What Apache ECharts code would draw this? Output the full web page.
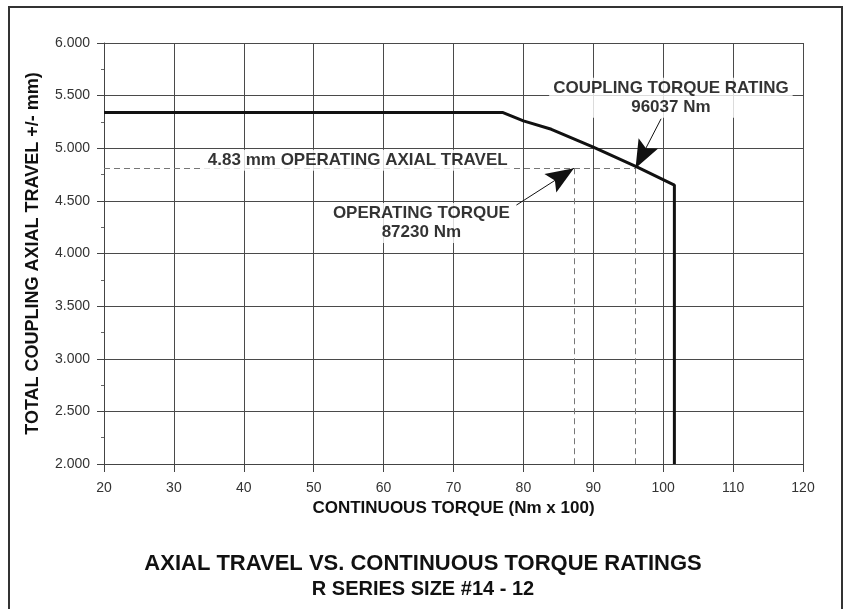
<!DOCTYPE html>
<html>
<head>
<meta charset="utf-8">
<title>Axial travel vs continuous torque</title>
<script src="https://cdn.jsdelivr.net/npm/echarts@6/dist/echarts.min.js"></script>
<style>
  html, body { margin: 0; padding: 0; background: #fff; }
  #chart { width: 846px; height: 609px; }
</style>
</head>
<body>
<div id="chart"></div>
<script>
// rating curve (torque in Nm x 100, travel in mm)
const torque = [20, 77, 80, 84, 90, 96.3, 101.6, 101.6];
const travel = [5.34, 5.34, 5.26, 5.18, 5.01, 4.82, 4.65, 2.0];

// operating point / coupling rating
const opTorque = 87.23;
const ratedTorque = 96.04;
const opTravel = 4.81;
const xMin = 20, xMax = 120, yMin = 2, yMax = 6;

// annotation texts and where they sit (data coords)
const noteText = ['4.83 mm OPERATING AXIAL TRAVEL', 'COUPLING TORQUE RATING\n96037 Nm', 'OPERATING TORQUE\n87230 Nm'];
const noteX = [56.3, 101.1, 65.4];
const noteY = [4.886, 5.48, 4.29];

// arrow tails (data coords), heads end on the marked points
const arrowFrom = [[79.0, 4.46], [99.7, 5.28]];
const arrowTo = [[opTorque, opTravel], [ratedTorque, opTravel]];

const font = 'Liberation Sans, Arial, Helvetica, sans-serif';
// arrow head, tip sits at the centre of the box so it lands on the point
const headPath = 'path://M10,0 M10,26 L20,52 L10,47 L0,52 Z';

const chart = echarts.init(document.getElementById('chart'));

const option = {
  animation: false,
  backgroundColor: '#fff',
  title: [
    {
      text: 'AXIAL TRAVEL VS. CONTINUOUS TORQUE RATINGS',
      left: 'center', top: 548,
      textStyle: { fontFamily: font, fontSize: 22, fontWeight: 'bold', color: '#111' }
    },
    {
      text: 'R SERIES SIZE #14 - 12',
      left: 'center', top: 574,
      textStyle: { fontFamily: font, fontSize: 20, fontWeight: 'bold', color: '#111' }
    }
  ],
  graphic: [{
    type: 'rect',
    shape: { x: 9, y: 7, width: 833, height: 620 },
    style: { fill: 'none', stroke: '#333', lineWidth: 2 },
    silent: true
  }],
  grid: { left: 104, right: 43, top: 43, bottom: 145 },
  xAxis: {
    type: 'value',
    min: xMin, max: xMax, interval: 10,
    name: 'CONTINUOUS TORQUE (Nm x 100)',
    nameLocation: 'middle',
    nameGap: 32,
    nameTextStyle: { fontFamily: font, fontSize: 17, fontWeight: 'bold', color: '#111' },
    axisLine: { show: true, lineStyle: { color: '#444', width: 1 } },
    axisTick: { show: true, length: 8, lineStyle: { color: '#444' } },
    axisLabel: { margin: 17, fontFamily: font, fontSize: 14, color: '#333' },
    splitLine: { show: true, lineStyle: { color: '#4a4a4a', width: 1 } }
  },
  yAxis: {
    type: 'value',
    min: yMin, max: yMax, interval: 0.5,
    name: 'TOTAL COUPLING AXIAL TRAVEL +/- mm)',
    nameLocation: 'middle',
    nameGap: 62,
    nameTextStyle: { fontFamily: font, fontSize: 18, fontWeight: 'bold', color: '#111' },
    axisLine: { show: true, lineStyle: { color: '#444', width: 1 } },
    axisTick: { show: true, length: 7, lineStyle: { color: '#444' } },
    minorTick: { show: true, splitNumber: 2, length: 3, lineStyle: { color: '#666' } },
    axisLabel: {
      margin: 14, fontFamily: font, fontSize: 14, color: '#333',
      formatter: v => v.toFixed(3)
    },
    splitLine: { show: true, lineStyle: { color: '#4a4a4a', width: 1 } }
  },
  series: [
    {
      type: 'line',
      data: torque.map((t, i) => [t, travel[i]]),
      symbol: 'none',
      lineStyle: { color: '#111', width: 3 },
      z: 5,
      markLine: {
        silent: true,
        symbol: 'none',
        label: { show: false },
        lineStyle: { type: [6, 4], color: '#777', width: 1 },
        data: [
          [{ coord: [xMin, opTravel] }, { coord: [ratedTorque, opTravel] }],
          [{ coord: [opTorque, opTravel] }, { coord: [opTorque, yMin] }],
          [{ coord: [ratedTorque, opTravel] }, { coord: [ratedTorque, yMin] }]
        ]
      }
    },
    {
      type: 'line',
      data: [],
      z: 8,
      markLine: {
        silent: true,
        symbol: ['none', headPath],
        symbolSize: [1, 1],
        label: { show: false },
        lineStyle: { type: 'solid', color: '#111', width: 1 },
        data: arrowFrom.map((p, i) => [
          { coord: p },
          { coord: arrowTo[i], symbol: headPath, symbolSize: [22, 56] }
        ])
      }
    },
    {
      type: 'scatter',
      z: 6,
      symbolSize: 1,
      itemStyle: { color: 'rgba(0,0,0,0)' },
      silent: true,
      data: noteText.map((t, i) => ({ value: [noteX[i], noteY[i]], name: t })),
      label: {
        show: true,
        position: 'inside',
        formatter: p => p.name,
        fontFamily: font,
        fontSize: 17,
        fontWeight: 'bold',
        lineHeight: 19,
        color: '#000',
        align: 'center',
        backgroundColor: '#fff',
        padding: [1, 4]
      }
    }
  ]
};

chart.setOption(option);
</script>
</body>
</html>
